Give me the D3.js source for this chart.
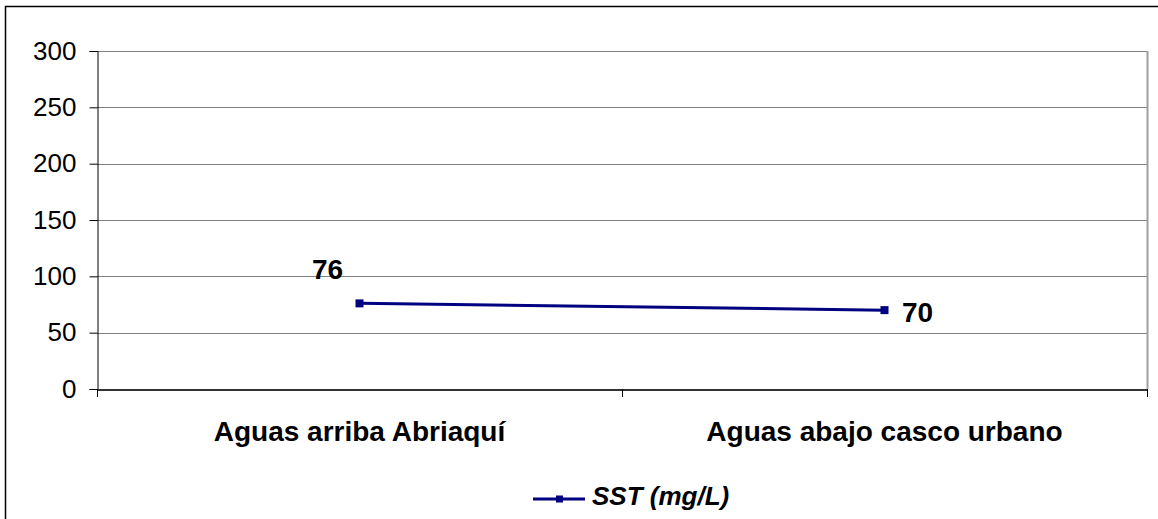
<!DOCTYPE html>
<html>
<head>
<meta charset="utf-8">
<script src="https://cdn.jsdelivr.net/npm/d3@7"></script>
<style>
  body { margin: 0; background: #fff; }
  svg { display: block; font-family: Arial, "Liberation Sans", sans-serif; }
</style>
</head>
<body>
<div id="chart"></div>
<script>
const categories = ["Aguas arriba Abriaquí", "Aguas abajo casco urbano"]
const sstValues = [76, 70]
const yTicks = [0, 50, 100, 150, 200, 250, 300]
const seriesName = "SST (mg/L)"

const W = 1158, H = 519
const plot = { left: 97, top: 51, right: 1147, bottom: 389 }

const svg = d3.select("#chart").append("svg")
  .attr("width", W)
  .attr("height", H)

// outer chart border
svg.append("rect")
  .attr("x", 5.5).attr("y", 6.5)
  .attr("width", W + 10).attr("height", H + 10)
  .attr("fill", "none")
  .attr("stroke", "#000")
  .attr("stroke-width", 1.5)

const x = d3.scaleBand()
  .domain(categories)
  .range([plot.left, plot.right])

const y = d3.scaleLinear()
  .domain([0, 300])
  .range([plot.bottom, plot.top])

// gridlines
svg.append("g")
  .selectAll("line")
  .data(yTicks.filter(d => d > 0))
  .join("line")
  .attr("x1", plot.left).attr("x2", plot.right)
  .attr("y1", d => Math.round(y(d)) + 0.5).attr("y2", d => Math.round(y(d)) + 0.5)
  .attr("stroke", "#808080")
  .attr("stroke-width", 1)

// right plot border
svg.append("line")
  .attr("x1", plot.right + 0.5).attr("x2", plot.right + 0.5)
  .attr("y1", plot.top).attr("y2", plot.bottom)
  .attr("stroke", "#a0a0a0")
  .attr("stroke-width", 2)

// y axis
const yAxis = svg.append("g")
  .attr("transform", `translate(${plot.left + 0.5},0)`)
  .call(d3.axisLeft(y).tickValues(yTicks).tickSize(8).tickPadding(13))
yAxis.select(".domain").attr("stroke", "#000")
yAxis.selectAll(".tick line").attr("stroke", "#000")
yAxis.selectAll(".tick text")
  .attr("font-size", 26)
  .attr("font-family", "Arial, 'Liberation Sans', sans-serif")
  .attr("fill", "#000")

// x axis
const xAxis = svg.append("g")
  .attr("transform", `translate(0,${plot.bottom + 0.5})`)
  .call(d3.axisBottom(x).tickSize(0).tickPadding(0).tickFormat(""))
xAxis.select(".domain").attr("stroke", "#333").attr("stroke-width", 2)

// category boundary ticks
const bounds = [plot.left, ...categories.map(c => x(c) + x.bandwidth())]
svg.append("g")
  .selectAll("line")
  .data(bounds)
  .join("line")
  .attr("x1", d => d + 0.5).attr("x2", d => d + 0.5)
  .attr("y1", plot.bottom).attr("y2", plot.bottom + 8)
  .attr("stroke", "#000")

// category labels
svg.append("g")
  .selectAll("text")
  .data(categories)
  .join("text")
  .attr("x", d => x(d) + x.bandwidth() / 2)
  .attr("y", 441)
  .attr("text-anchor", "middle")
  .attr("font-size", 28)
  .attr("font-weight", "bold")
  .text(d => d)

const pts = categories.map((c, i) => ({ c, v: sstValues[i] }))
const line = d3.line()
  .x(d => x(d.c) + x.bandwidth() / 2)
  .y(d => y(d.v))

svg.append("path")
  .datum(pts)
  .attr("d", line)
  .attr("fill", "none")
  .attr("stroke", "#000080")
  .attr("stroke-width", 3)

svg.append("g")
  .selectAll("rect")
  .data(pts)
  .join("rect")
  .attr("x", d => x(d.c) + x.bandwidth() / 2 - 4)
  .attr("y", d => y(d.v) - 4)
  .attr("width", 8).attr("height", 8)
  .attr("fill", "#000080")

// data labels
const labelOffset = [{ dx: -32, dy: -24 }, { dx: 33, dy: 12 }]
svg.append("g")
  .selectAll("text")
  .data(pts)
  .join("text")
  .attr("x", (d, i) => x(d.c) + x.bandwidth() / 2 + labelOffset[i].dx)
  .attr("y", (d, i) => y(d.v) + labelOffset[i].dy)
  .attr("text-anchor", "middle")
  .attr("font-size", 28)
  .attr("font-weight", "bold")
  .text(d => d.v)

// legend
const lg = svg.append("g").attr("transform", "translate(533,499)")
lg.append("line")
  .attr("x1", 0).attr("x2", 52)
  .attr("stroke", "#000080").attr("stroke-width", 3)
lg.append("rect")
  .attr("x", 23).attr("y", -3.5).attr("width", 7).attr("height", 7)
  .attr("fill", "#000080")
lg.append("text")
  .attr("x", 59).attr("y", 6)
  .attr("font-size", 26)
  .attr("font-weight", "bold")
  .attr("font-style", "italic")
  .text(seriesName)
</script>
</body>
</html>
